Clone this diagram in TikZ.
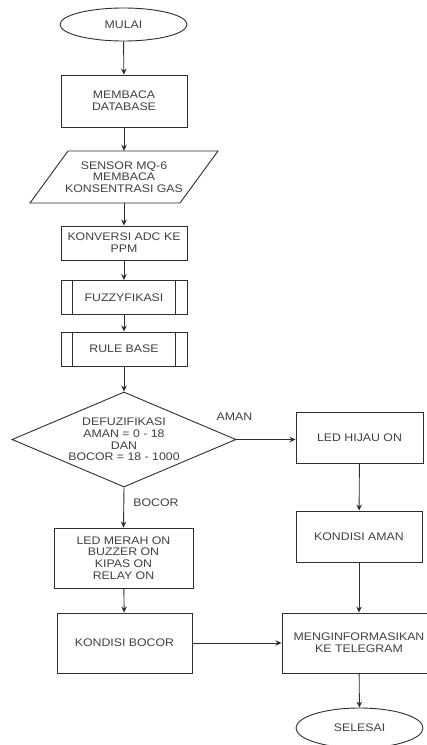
\documentclass[tikz,border=0pt]{standalone}
\usepackage{fontspec}
\setmainfont{Liberation Sans}[FakeStretch=1.12]
\usetikzlibrary{shapes.geometric,arrows.meta}
\definecolor{ln}{HTML}{2E2E2E}
\definecolor{tx}{HTML}{404040}
\begin{document}
\begin{tikzpicture}[x=1pt,y=-1pt,
  every node/.style={font=\fontsize{11}{11.7}\selectfont, text=tx, align=center, inner sep=0pt},
  box/.style={draw=ln, line width=0.9pt, rectangle},
  term/.style={draw=ln, line width=0.9pt, ellipse},
  arr/.style={draw=ln, line width=0.9pt, -{Stealth[length=6pt,width=5.5pt]}},
  lbl/.style={}]
\useasboundingbox (0,0) rectangle (427,745);
\clip (0,0) rectangle (427,745);
\node[term, minimum width=127pt, minimum height=33pt] (mulai) at (123.5,24.5) {MULAI};
\node[box, minimum width=126pt, minimum height=52pt] (baca) at (124,101) {MEMBACA\\DATABASE};
\node[minimum width=150pt, minimum height=52pt] (sensor) at (124,177) {SENSOR MQ-6\\MEMBACA\\KONSENTRASI GAS};
\draw[ln, line width=0.9pt] (68,151) -- (218,151) -- (180,203) -- (30,203) -- cycle;
\node[box, minimum width=126pt, minimum height=34pt] (konv) at (124,243) {KONVERSI ADC KE\\PPM};
\node[box, minimum width=126pt, minimum height=34pt] (fuzzy) at (124,297.5) {FUZZYFIKASI};
\draw[ln, line width=0.9pt] ([xshift=12pt]fuzzy.north west) -- ([xshift=12pt]fuzzy.south west)
  ([xshift=-12pt]fuzzy.north east) -- ([xshift=-12pt]fuzzy.south east);
\node[box, minimum width=126pt, minimum height=34pt] (rule) at (124,349) {RULE BASE};
\draw[ln, line width=0.9pt] ([xshift=12pt]rule.north west) -- ([xshift=12pt]rule.south west)
  ([xshift=-12pt]rule.north east) -- ([xshift=-12pt]rule.south east);
\node[diamond, draw=ln, line width=0.9pt, minimum width=224pt, minimum height=95pt] (dec) at (124,439.5) {};
\node (dectext) at (124,439.5) {DEFUZIFIKASI\\AMAN = 0 - 18\\DAN\\BOCOR = 18 - 1000};
\node[box, minimum width=127pt, minimum height=51pt] (hijau) at (359.5,437.5) {LED HIJAU ON};
\node[box, minimum width=126pt, minimum height=51pt] (aman) at (359,536.5) {KONDISI AMAN};
\node[box, minimum width=139pt, minimum height=60pt] (merah) at (123.5,558) {LED MERAH ON\\BUZZER ON\\KIPAS ON\\RELAY ON};
\node[box, minimum width=135pt, minimum height=60pt] (bocor) at (124.5,643) {KONDISI BOCOR};
\node[box, minimum width=154pt, minimum height=60pt] (info) at (359,643) {MENGINFORMASIKAN\\KE TELEGRAM};
\node[term, minimum width=127pt, minimum height=40pt] (selesai) at (359.5,728) {SELESAI};
\node[lbl] (lbaman) at (234.5,417) {AMAN};
\node[lbl] (lbbocor) at (156,503) {BOCOR};
\draw[arr] (mulai) -- (baca);
\draw[arr] (baca) -- (sensor);
\draw[arr] (sensor) -- (konv);
\draw[arr] (konv) -- (fuzzy);
\draw[arr] (fuzzy) -- (rule);
\draw[arr] (rule) -- (dec);
\draw[arr] (dec.east) -- (dec.east -| hijau.west);
\draw[arr] (dec.south) -- (merah.north);
\draw[arr] (hijau) -- (aman);
\draw[arr] (aman) -- (info);
\draw[arr] (merah) -- (bocor);
\draw[arr] (bocor) -- (info);
\draw[arr] (info) -- (selesai);
\end{tikzpicture}
\end{document}
